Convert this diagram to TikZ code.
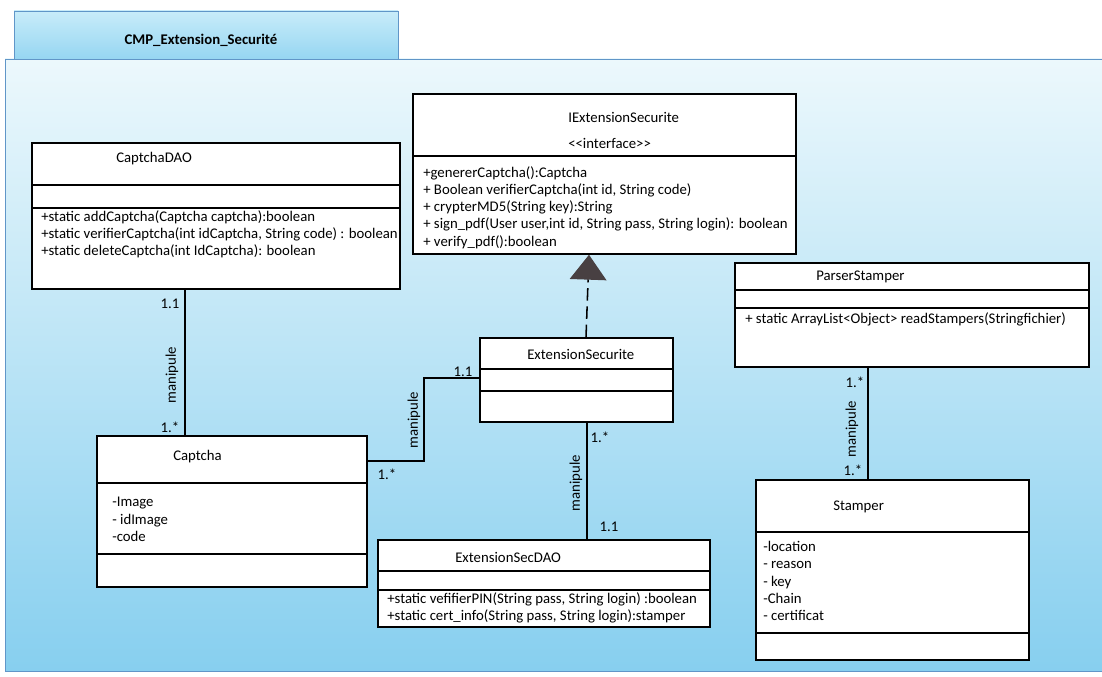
\documentclass[tikz,border=0pt]{standalone}
\usepackage{fontspec}
\setmainfont{Carlito}
\usetikzlibrary{arrows.meta}
\usetikzlibrary{positioning}
\usetikzlibrary{fit}
\definecolor{pkgtop}{RGB}{236,248,252}
\definecolor{pkgmid}{RGB}{178,226,245}
\definecolor{pkgbot}{RGB}{135,207,239}
\definecolor{pkgedge}{RGB}{96,150,200}
\definecolor{tabtop}{RGB}{200,236,249}
\definecolor{tabbot}{RGB}{150,214,242}
\definecolor{tipgray}{RGB}{72,64,66}

\begin{document}
\begin{tikzpicture}[x=0.025cm, y=-0.025cm,
    font=\fontsize{10.5}{12.3}\selectfont,
    cls/.style={draw, fill=white, line width=1.1pt, inner sep=0pt},
    sep/.style={line width=1.1pt},
    members/.style={anchor=north west, align=left, inner sep=0pt},
    cname/.style={anchor=west, inner sep=0pt},
    assoc/.style={line width=1.1pt},
    mult/.style={inner sep=0pt}]
    \useasboundingbox (0,0) rectangle (1102,676);

    % package frame
    \draw [pkgedge, line width=0.5pt, top color=pkgtop, middle color=pkgmid, bottom color=pkgbot] (5,59) rectangle (1110,671);
    \draw [pkgedge, line width=0.5pt, top color=tabtop, bottom color=tabbot] (14,11) rectangle (398,59);
    \node [inner sep=0pt] (pkg) at (201,40) {\bfseries CMP\_Extension\_Securité};

    % IExtensionSecurite
    \node [cls, fit={(413,94) (796,254)}] (iext) {};
    \draw [sep] (iext.west |- 0,156) -- (iext.east |- 0,156);
    \node [cname] (iext-name) at (568,117) {IExtensionSecurite};
    \node [cname] (iext-st) at (568,143) {{<}{<}interface{>}{>}};
    \node [members] (iext-ops) at (423,166) {+genererCaptcha():Captcha\\
        + Boolean verifierCaptcha(int id, String code)\\
        + crypterMD5(String key):String\\
        + sign\_pdf(User user,int id, String pass, String login): boolean\\
        + verify\_pdf():boolean};

    % CaptchaDAO
    \node [cls, fit={(32,143) (400,289)}] (cdao) {};
    \draw [sep] (cdao.west |- 0,185) -- (cdao.east |- 0,185);
    \draw [sep] (cdao.west |- 0,208) -- (cdao.east |- 0,208);
    \node [cname] (cdao-name) at (116,159) {CaptchaDAO};
    \node [members] (cdao-ops) at (41,210) {+static addCaptcha(Captcha captcha):boolean\\
        +static verifierCaptcha(int idCaptcha, String code) : boolean\\
        +static deleteCaptcha(int IdCaptcha): boolean};

    % ParserStamper
    \node [cls, fit={(735,263) (1089,367)}] (pars) {};
    \draw [sep] (pars.west |- 0,290) -- (pars.east |- 0,290);
    \draw [sep] (pars.west |- 0,308) -- (pars.east |- 0,308);
    \node [cname] (pars-name) at (816,277) {ParserStamper};
    \node [members] (pars-ops) at (745,312) {+ static ArrayList<Object> readStampers(Stringfichier)};

    % ExtensionSecurite
    \node [cls, fit={(480,338) (673,422)}] (ext) {};
    \draw [sep] (ext.west |- 0,369) -- (ext.east |- 0,369);
    \draw [sep] (ext.west |- 0,391) -- (ext.east |- 0,391);
    \node [cname] (ext-name) at (527,354) {ExtensionSecurite};

    % Captcha
    \node [cls, fit={(97,436) (367,587)}] (capt) {};
    \draw [sep] (capt.west |- 0,483) -- (capt.east |- 0,483);
    \draw [sep] (capt.west |- 0,554) -- (capt.east |- 0,554);
    \node [cname] (capt-name) at (173,457) {Captcha};
    \node [members] (capt-attr) at (112,497) {-Image\\ - idImage\\ -code};

    % ExtensionSecDAO
    \node [cls, fit={(378,540) (710,627)}] (sdao) {};
    \draw [sep] (sdao.west |- 0,571) -- (sdao.east |- 0,571);
    \draw [sep] (sdao.west |- 0,590) -- (sdao.east |- 0,590);
    \node [cname] (sdao-name) at (455,557) {ExtensionSecDAO};
    \node [members] (sdao-ops) at (387,592) {+static vefifierPIN(String pass, String login) :boolean\\
        +static cert\_info(String pass, String login):stamper};

    % Stamper
    \node [cls, fit={(756,480) (1029,660)}] (stmp) {};
    \draw [sep] (stmp.west |- 0,532) -- (stmp.east |- 0,532);
    \draw [sep] (stmp.west |- 0,633) -- (stmp.east |- 0,633);
    \node [cname] (stmp-name) at (833,507) {Stamper};
    \node [members] (stmp-attr) at (763,541) {-location\\ - reason\\ - key\\ -Chain\\ - certificat};

    % realisation
    \draw [line width=1.1pt, dash pattern=on 9pt off 4pt,
        -{Triangle[length=17.7pt, width=26pt, color=tipgray]}] (ext.north -| 586,0) -- (iext.south -| 589,0);

    % associations
    \draw [assoc] (cdao.south -| 185,0) -- (capt.north -| 185,0);
    \node [mult] (m1a) at (170,304) {1.1};
    \node [mult] (m1b) at (170,427) {1.*};
    \node [mult, rotate=90] (r1) at (172,375) {manipule};

    \draw [assoc] (capt.east |- 0,461) -- (424,461) |- (ext.west |- 0,378);
    \node [mult] (m2a) at (463,372) {1.1};
    \node [mult] (m2b) at (387,474) {1.*};
    \node [mult, rotate=90] (r2) at (414,420) {manipule};

    \draw [assoc] (ext.south -| 587,0) -- (sdao.north -| 587,0);
    \node [mult] (m3a) at (600,437) {1.*};
    \node [mult] (m3b) at (609,527) {1.1};
    \node [mult, rotate=90] (r3) at (576,483) {manipule};

    \draw [assoc] (pars.south -| 868,0) -- (stmp.north -| 868,0);
    \node [mult] (m4a) at (855,382) {1.*};
    \node [mult] (m4b) at (853,470) {1.*};
    \node [mult, rotate=90] (r4) at (852,429) {manipule};
\end{tikzpicture}
\end{document}
